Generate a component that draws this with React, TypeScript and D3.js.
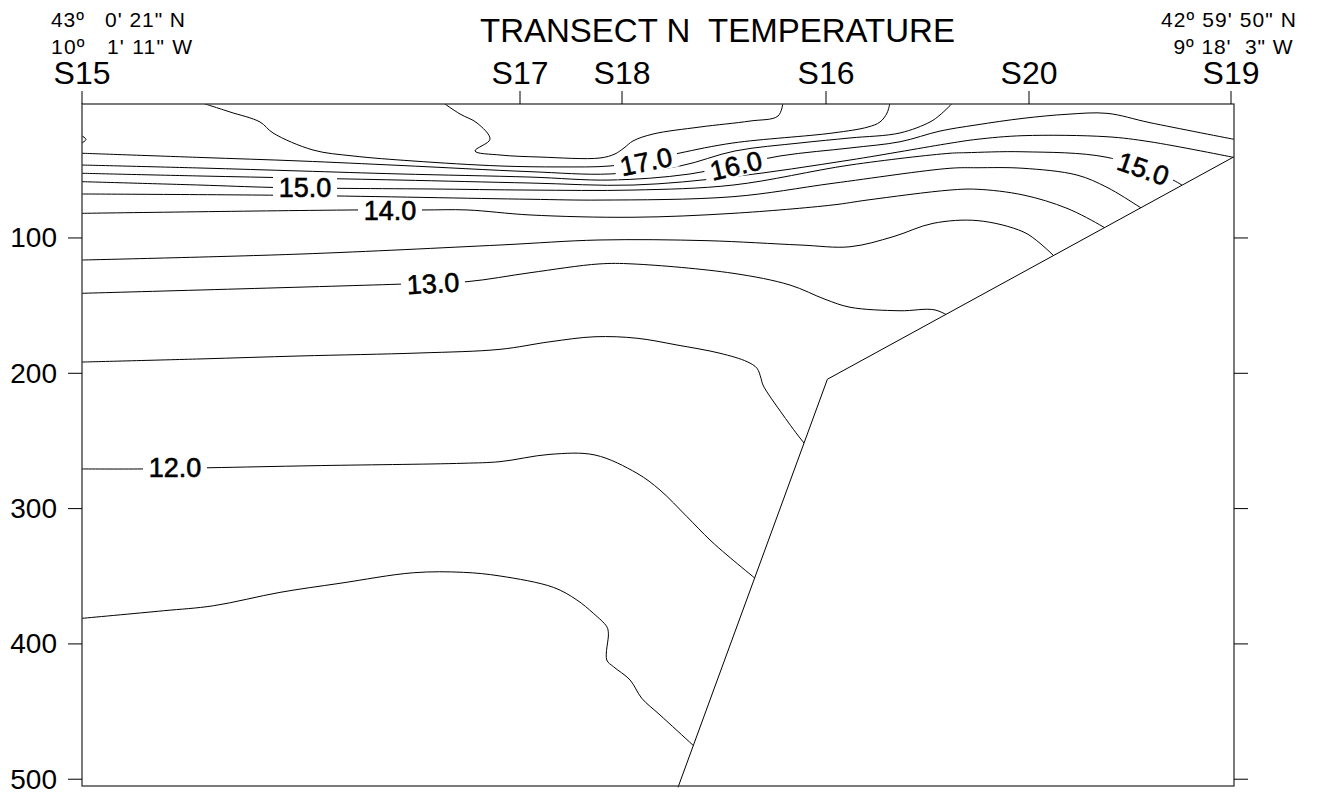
import React from "react";
import * as d3 from "d3";

const W = 1318;
const H = 799;

// distance along transect (km) and depth (m)
const distanceDomain: [number, number] = [0, 57.6];
const depthDomain: [number, number] = [1, 505];
const depthTicks = [100, 200, 300, 400, 500];

const stationNames = ["S15", "S17", "S18", "S16", "S20", "S19"];
const stationKm = [0, 21.9, 27.0, 37.2, 47.35, 57.45];

const titleText = "TRANSECT N  TEMPERATURE";
const startCoords = ["43º   0' 21\" N", "10º   1' 11\" W"];
const endCoords = ["42º 59' 50\" N", "9º 18'  3\" W"];

// seabed profile (km, m)
const seabed: [number, number][] = [
  [57.6, 40],
  [37.27, 204.4],
  [29.8, 506],
];

// isotherms (km, m)
const c175: [number, number][] = [
  [18.05, 0], [18.9, 8.4], [19.75, 15], [20.4, 27], [19.65, 35.7], [20.9, 38.7], [22.9, 40.2],
  [25.9, 40.9], [26.65, 37.9], [27.1, 33.5], [27.55, 28.3], [28.55, 23.2], [30.9, 18],
  [33.4, 13.6], [34.8, 9.9], [35.05, 0],
];
const c170: [number, number][] = [
  [5.95, 0], [7.4, 6.9], [8.9, 14.3], [9.55, 22.4], [11.55, 35], [13.55, 39.4], [16.55, 43.1],
  [20.9, 46.8], [23.9, 47.5], [26.4, 46.8], [28.4, 42.4], [29.9, 37.2], [32.55, 29.8],
  [37.55, 22.4], [39.3, 18], [39.9, 14.3], [40.25, 7.7], [40.4, 0],
];
const c170edge: [number, number][] = [[0, 24.6], [0.2, 27.2], [0, 29.8]];
const c165: [number, number][] = [
  [0, 37.4], [5.9, 40.5], [10.9, 43.1], [15.9, 46.4], [22.4, 51.0], [26.4, 52.7], [29.9, 46.8],
  [32.65, 35.7], [35.9, 29.8], [38.4, 26.1], [40.9, 22.4], [42.4, 14.3], [42.9, 9.1], [43.55, 0],
];
const c160: [number, number][] = [
  [0, 46.1], [5.9, 48.3], [10.9, 50.5], [15.9, 52.7], [22.4, 55], [26.4, 57.2], [30.4, 52.7],
  [34.9, 39.4], [38.4, 33.5], [40.9, 28.9], [42.9, 21], [44.7, 16.5], [47.05, 11.6],
  [49.25, 8.6], [51.25, 7.9], [53.4, 14.8], [57.6, 27.1],
];
const c155: [number, number][] = [
  [0, 52.2], [5.9, 54.2], [10.9, 55.7], [15.9, 57.2], [22.4, 59.4], [27.55, 60.9], [32.55, 54.7],
  [38.4, 42.4], [43.4, 30], [44.75, 27.1], [47.05, 24.4], [51.25, 25.2], [53.4, 28.9], [57.6, 40.5],
];
const c150: [number, number][] = [
  [0, 58.4], [5.9, 60.9], [9.4, 62.6], [12.75, 63.3], [17.4, 63.8], [22.4, 64.6], [27.55, 64.6],
  [32.55, 60.9], [38.4, 46.1], [43.4, 37.4], [44.2, 37], [47.05, 36.3], [51.25, 40.4],
  [54.55, 57.2], [55.2, 63],
];
const c145: [number, number][] = [
  [0, 67.5], [10.9, 68.6], [22.4, 71.4], [25.9, 72], [32.55, 69.5], [37.55, 59.6], [43.4, 48.5],
  [44.75, 48.1], [47.05, 48.5], [49.75, 53.5], [51.25, 62.6], [52.9, 77.3], [53.5, 83],
];
const c140: [number, number][] = [
  [0, 81.8], [13.75, 79.3], [17.05, 79.3], [19.25, 79.3], [22.4, 83], [27.55, 84.7], [32.55, 81.8],
  [37.55, 75.6], [39.25, 72], [43.4, 64.6], [44.75, 64], [47.05, 68.2], [49.25, 78.1],
  [51.05, 91.7], [51.6, 97],
];
const c135: [number, number][] = [
  [0, 116.3], [10.9, 111.9], [20.9, 105.2], [25.85, 101.5], [31.25, 102], [35.9, 105.2],
  [38.4, 106.5], [40.55, 99.1], [42.55, 89.2], [44.8, 87.2], [47.05, 95.4], [47.9, 103.9],
  [48.55, 112.6], [49.1, 120],
];
const c130: [number, number][] = [
  [0, 140.9], [15.75, 134.2], [19.25, 132.3], [22.4, 125.7], [25.85, 119.2], [27.55, 119.2],
  [32.55, 126.1], [35.4, 134.8], [37.15, 145.3], [38.4, 151.2], [40.9, 153.8], [42.65, 153.2],
  [43.6, 160],
];
const c125: [number, number][] = [
  [0, 191.7], [5.9, 189.4], [10.9, 187.2], [16.9, 185], [20.9, 182.3], [23.4, 176.7],
  [25.65, 173], [27.75, 174.1], [29.75, 179.1], [31.9, 185.2], [33.25, 191.4], [33.75, 196.3],
  [33.95, 203.7], [34.05, 208.7], [35.05, 230.8], [36.05, 250.6], [36.5, 258],
];
const c120: [number, number][] = [
  [0, 270.7], [2.99, 270.7], [6.4, 269.8], [11.55, 268.3], [19.05, 266.5], [20.9, 265.3],
  [23.4, 259.9], [25.65, 260.4], [27.75, 273.9], [28.9, 286.3], [30.25, 306], [31.4, 323.2],
  [32.25, 334.3], [33.65, 351.5], [34.1, 357],
];
const c115: [number, number][] = [
  [0, 381.1], [4.07, 375.5], [6.57, 371.8], [9.9, 361.9], [12.9, 355.2], [16.57, 347.4],
  [19.07, 347.1], [20.9, 349.8], [23.57, 358.2], [24.74, 367.5], [25.57, 377.4], [26.24, 387.3],
  [26.32, 392.2], [26.24, 411.9], [26.57, 416.8], [27.4, 426.6], [27.99, 440.2], [28.9, 452.5],
  [30.54, 474.7], [31.0, 481],
];

const isotherms = [c175, c170, c170edge, c165, c160, c155, c150, c145, c140, c135, c130, c125, c120, c115];

// contour labels: text, km, depth, angle (deg)
const labelText = ["17.0", "16.0", "15.0", "15.0", "14.0", "13.0", "12.0"];
const labelKm = [28.2, 32.7, 11.15, 53.05, 15.4, 17.55, 4.65];
const labelDepth = [43.9, 46.8, 63.1, 49.0, 80.1, 134, 270];
const labelAngle = [-12, -13, 0, 19, 0, -3, 0];

export default function App() {
  const x = d3.scaleLinear().domain(distanceDomain).range([82, 1234]);
  const y = d3.scaleLinear().domain(depthDomain).range([104, 786]);

  const line = d3
    .line<[number, number]>()
    .x((d) => x(d[0]))
    .y((d) => y(d[1]))
    .curve(d3.curveCatmullRom.alpha(0.5));

  const straight = d3
    .line<[number, number]>()
    .x((d) => x(d[0]))
    .y((d) => y(d[1]));

  const x0 = x(distanceDomain[0]);
  const x1 = x(distanceDomain[1]);
  const y0 = y(depthDomain[0]);
  const y1 = y(depthDomain[1]);

  const water: [number, number][] = [
    [distanceDomain[0], depthDomain[0]],
    [distanceDomain[1], depthDomain[0]],
    ...seabed,
    [distanceDomain[0], depthDomain[1] + 1],
  ];

  const font = "Arial, 'Liberation Sans', Helvetica, sans-serif";
  const startLen = [134, 141];
  const endLen = [135, 119];
  const endX = [1296, 1292.5];

  return (
    <svg
      width={W}
      height={H}
      style={{ position: "absolute", left: 0, top: 0, background: "#fff" }}
      fontFamily={font}
    >
      <rect x={0} y={0} width={W} height={H} fill="#fff" />
      <defs>
        <clipPath id="waterClip">
          <path d={straight(water) + "Z"} />
        </clipPath>
      </defs>

      {/* isotherms */}
      <g clipPath="url(#waterClip)">
        {isotherms.map((c, i) => (
          <path key={i} d={line(c) || ""} fill="none" stroke="#000" strokeWidth={1} />
        ))}
      </g>

      {/* contour labels */}
      {labelText.map((t, i) => {
        const cx = x(labelKm[i]);
        const cy = y(labelDepth[i]);
        return (
          <g key={i} transform={`translate(${cx},${cy}) rotate(${labelAngle[i]})`}>
            <rect x={-32} y={-11} width={64} height={22} fill="#fff" />
            <text
              textAnchor="middle"
              dominantBaseline="central"
              fontSize={27}
              fill="#000"
              stroke="#000"
              strokeWidth={0.6}
            >
              {t}
            </text>
          </g>
        );
      })}

      {/* seabed */}
      <path d={straight(seabed) || ""} fill="none" stroke="#000" strokeWidth={1} />

      {/* frame */}
      <rect x={x0} y={y0} width={x1 - x0} height={y1 - y0} fill="none" stroke="#333" strokeWidth={1.3} />

      {/* depth ticks */}
      {depthTicks.map((t) => (
        <g key={t}>
          <line x1={x0 - 14} x2={x0} y1={y(t)} y2={y(t)} stroke="#000" strokeWidth={1} />
          <line x1={x1} x2={x1 + 14} y1={y(t)} y2={y(t)} stroke="#000" strokeWidth={1} />
          <text x={57} y={y(t)} textAnchor="end" dominantBaseline="central" fontSize={28}>
            {t}
          </text>
        </g>
      ))}

      {/* stations */}
      {stationNames.map((s, i) => (
        <g key={s}>
          <line x1={x(stationKm[i])} x2={x(stationKm[i])} y1={y0 - 13} y2={y0} stroke="#000" strokeWidth={1} />
          <text x={x(stationKm[i])} y={84} textAnchor="middle" fontSize={32}>
            {s}
          </text>
        </g>
      ))}

      {/* title */}
      <text x={480} y={42} fontSize={33} style={{ whiteSpace: "pre" }}>
        {titleText}
      </text>

      {/* end coordinates */}
      {startCoords.map((c, i) => (
        <text
          key={c}
          x={51}
          y={27 + i * 26.5}
          fontSize={21}
          textLength={startLen[i]}
          lengthAdjust="spacing"
          style={{ whiteSpace: "pre" }}
        >
          {c}
        </text>
      ))}
      {endCoords.map((c, i) => (
        <text
          key={c}
          x={endX[i] - endLen[i]}
          y={27 + i * 26.5}
          fontSize={21}
          textLength={endLen[i]}
          lengthAdjust="spacing"
          style={{ whiteSpace: "pre" }}
        >
          {c}
        </text>
      ))}
    </svg>
  );
}
